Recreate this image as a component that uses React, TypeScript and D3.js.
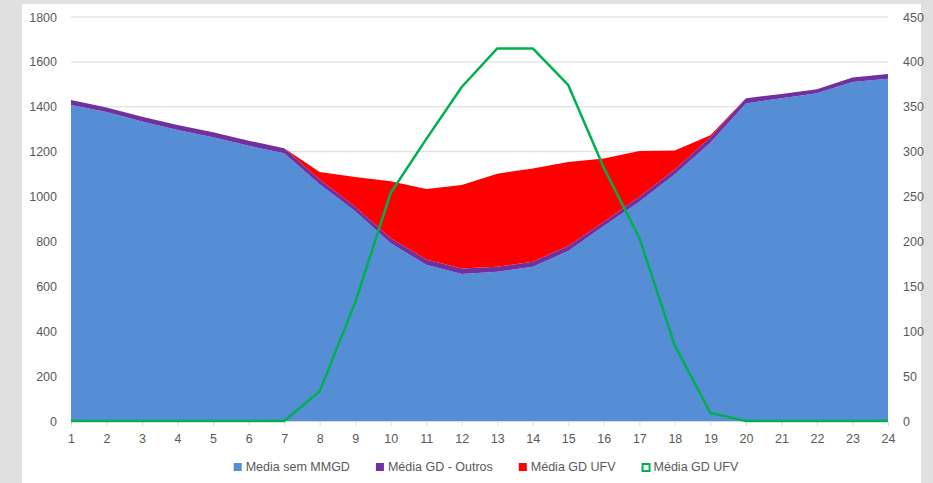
import { useEffect, useRef } from 'react';
import * as d3 from 'd3';

// Hours of the day
const hours = d3.range(1, 25).map(String);

// Media sem MMGD (bottom area, left axis)
const semMMGD = [1408, 1377, 1334, 1296, 1264, 1226, 1193, 1055, 935, 792, 696, 655,
  665, 687, 757, 869, 977, 1099, 1240, 1415, 1438, 1460, 1510, 1525];

// Média GD - Outros (thin purple band)
const gdOutros = [22, 20, 22, 23, 22, 23, 22, 21, 20, 22, 24, 25,
  22, 23, 23, 19, 22, 22, 24, 23, 19, 18, 21, 21];

// Média GD UFV (red area on left axis, green line on right axis)
const gdUFV = [0, 0, 0, 0, 0, 0, 0, 33, 132, 254, 314, 372,
  415, 415, 374, 282, 204, 84, 9, 0, 0, 0, 0, 0];

const leftTicks = [0, 200, 400, 600, 800, 1000, 1200, 1400, 1600, 1800];
const rightTicks = [0, 50, 100, 150, 200, 250, 300, 350, 400, 450];

const legendItems = [
  { label: 'Media sem MMGD', color: '#558ed5', kind: 'box' },
  { label: 'Média GD - Outros', color: '#7030a0', kind: 'box' },
  { label: 'Média GD UFV', color: '#ff0000', kind: 'box' },
  { label: 'Média GD UFV', color: '#00b050', kind: 'line' },
];

const FONT = "'Liberation Sans Narrow', 'Liberation Sans', Arial, sans-serif";

export default function App() {
  const svgRef = useRef<SVGSVGElement>(null);

  useEffect(() => {
    if (!svgRef.current) return;
    const svg = d3.select(svgRef.current);
    svg.selectAll('*').remove();

    const W = 933;
    const H = 483;

    // Panel background
    svg.append('rect').attr('width', W).attr('height', H).attr('fill', '#e0e0e0');
    svg.append('rect').attr('x', 22).attr('y', 4).attr('width', 899).attr('height', H - 4).attr('fill', '#fff');

    const x = d3.scalePoint<string>().domain(hours).range([71, 888]);
    const y = d3.scaleLinear().domain([0, 1800]).range([421, 17]);
    const y2 = d3.scaleLinear().domain([0, 450]).range([421, 17]);

    // Gridlines
    svg.append('g')
      .selectAll('line')
      .data(leftTicks.filter(t => t > 0))
      .enter()
      .append('line')
      .attr('x1', 71)
      .attr('x2', 888)
      .attr('y1', d => y(d))
      .attr('y2', d => y(d))
      .attr('stroke', '#d9d9d9')
      .attr('stroke-width', 1);

    // Stacked areas
    const rows = hours.map((h, i) => ({ hour: h, sem: semMMGD[i], outros: gdOutros[i], ufv: gdUFV[i] }));
    const stack = d3.stack<typeof rows[number]>().keys(['sem', 'outros', 'ufv']);
    const series = stack(rows);
    const colors = ['#558ed5', '#7030a0', '#ff0000'];

    const area = d3.area<d3.SeriesPoint<typeof rows[number]>>()
      .x(d => x(d.data.hour) as number)
      .y0(d => y(d[0]))
      .y1(d => y(d[1]));

    svg.append('g')
      .selectAll('path')
      .data(series)
      .enter()
      .append('path')
      .attr('d', d => area(d))
      .attr('fill', (_, i) => colors[i]);

    // X axis
    const xAxis = svg.append('g')
      .attr('transform', 'translate(0,421)')
      .call(d3.axisBottom(x).tickSize(5).tickSizeOuter(0).tickPadding(8));
    xAxis.select('.domain').attr('stroke', '#d9d9d9');
    xAxis.selectAll('.tick line').attr('stroke', '#d9d9d9');
    xAxis.selectAll('text')
      .attr('fill', '#595959')
      .style('font-size', '12.5px')
      .style('font-family', FONT);

    // Left axis
    const yAxis = svg.append('g')
      .attr('transform', 'translate(71,0)')
      .call(d3.axisLeft(y).tickValues(leftTicks).tickFormat(d3.format('d')).tickSize(0).tickPadding(14));
    yAxis.select('.domain').remove();
    yAxis.selectAll('text')
      .attr('fill', '#595959')
      .style('font-size', '12.5px')
      .style('font-family', FONT);

    // Right axis
    const y2Axis = svg.append('g')
      .attr('transform', 'translate(888,0)')
      .call(d3.axisRight(y2).tickValues(rightTicks).tickFormat(d3.format('d')).tickSize(0).tickPadding(15));
    y2Axis.select('.domain').remove();
    y2Axis.selectAll('text')
      .attr('fill', '#595959')
      .style('font-size', '12.5px')
      .style('font-family', FONT);

    // Green line (secondary axis)
    const line = d3.line<number>()
      .x((_, i) => x(hours[i]) as number)
      .y(d => y2(d));

    svg.append('path')
      .datum(gdUFV)
      .attr('d', line)
      .attr('fill', 'none')
      .attr('stroke', '#00b050')
      .attr('stroke-width', 2.5)
      .attr('stroke-linejoin', 'round');

    // Legend
    const legend = svg.append('g').attr('transform', 'translate(0,467)');
    const gap = 26;
    let cursor = 0;
    const items = legendItems.map(item => {
      const g = legend.append('g');
      if (item.kind === 'box') {
        g.append('rect').attr('x', 0).attr('y', -4).attr('width', 8).attr('height', 8).attr('fill', item.color);
      } else {
        g.append('rect').attr('x', 1).attr('y', -3).attr('width', 7).attr('height', 7)
          .attr('fill', '#fff').attr('stroke', item.color).attr('stroke-width', 2);
      }
      const t = g.append('text')
        .attr('x', 12)
        .attr('y', 4)
        .attr('fill', '#595959')
        .style('font-size', '12.5px')
        .style('font-family', FONT)
        .text(item.label);
      const w = 12 + (t.node() as SVGTextElement).getComputedTextLength();
      const pos = cursor;
      cursor += w + gap;
      return { g, pos };
    });
    const total = cursor - gap;
    const start = 486 - total / 2;
    items.forEach(({ g, pos }) => g.attr('transform', `translate(${start + pos},0)`));
  }, []);

  return (
    <svg ref={svgRef} width={933} height={483} style={{ position: 'absolute', left: 0, top: 0 }} />
  );
}
